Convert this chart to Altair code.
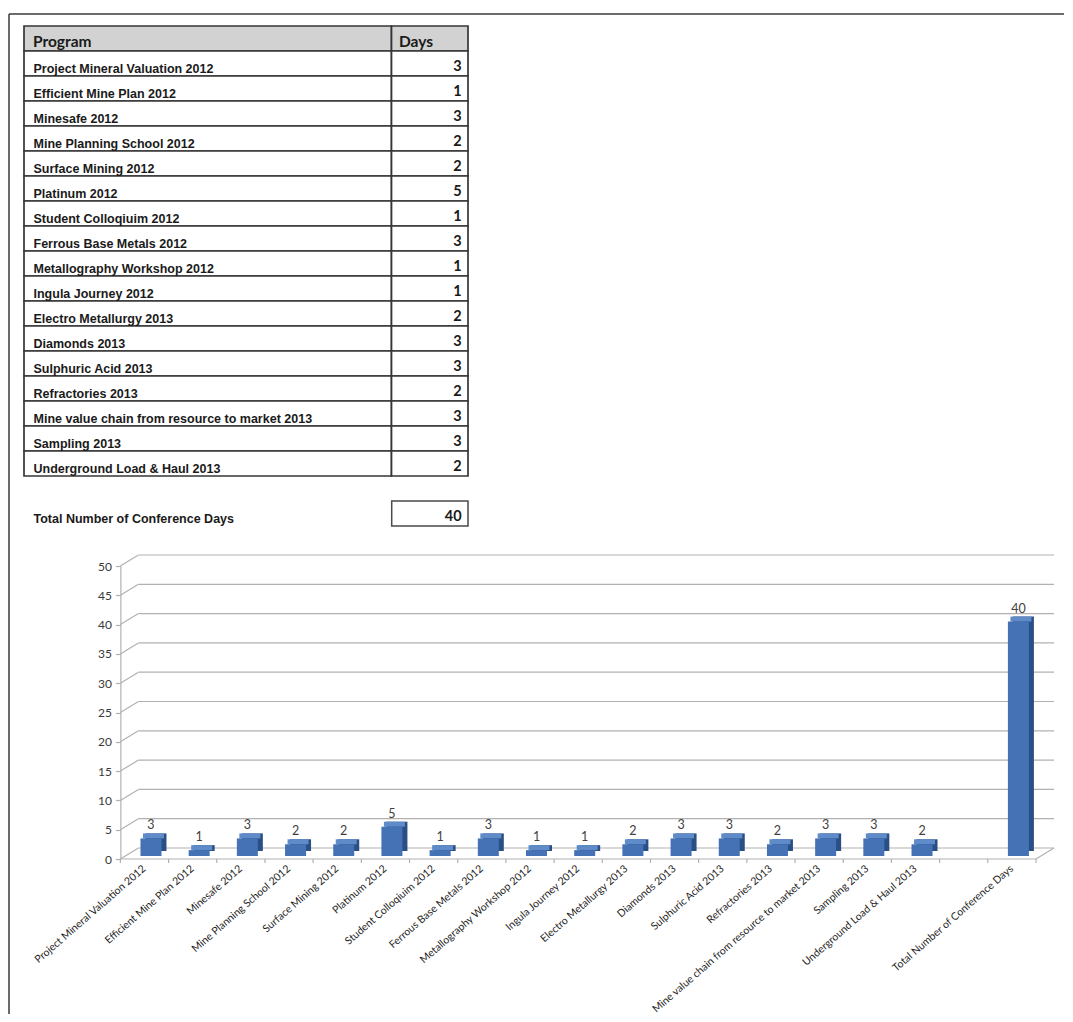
import altair as alt
import pandas as pd

# ---------------- data ----------------
programs = [
    "Project Mineral Valuation 2012",
    "Efficient Mine Plan 2012",
    "Minesafe 2012",
    "Mine Planning School 2012",
    "Surface Mining 2012",
    "Platinum 2012",
    "Student Colloqiuim 2012",
    "Ferrous Base Metals 2012",
    "Metallography Workshop 2012",
    "Ingula Journey 2012",
    "Electro Metallurgy 2013",
    "Diamonds 2013",
    "Sulphuric Acid 2013",
    "Refractories 2013",
    "Mine value chain from resource to market 2013",
    "Sampling 2013",
    "Underground Load & Haul 2013",
]
days = [3, 1, 3, 2, 2, 5, 1, 3, 1, 1, 2, 3, 3, 2, 3, 3, 2]
total_label = "Total Number of Conference Days"
total_days = 40
header_labels = ["Program", "Days"]
y_ticks = [0, 5, 10, 15, 20, 25, 30, 35, 40, 45, 50]

# ---------------- table panel ----------------
HEADER_KEY, GAP_KEY, TOTAL_KEY = "_header", "_gap", "_total"
row_domain = [HEADER_KEY] + programs + [GAP_KEY, TOTAL_KEY]

rows_df = pd.DataFrame({"key": [HEADER_KEY] + programs,
                        "is_header": [True] + [False] * len(programs)})
prog_df = pd.DataFrame({"key": programs, "days": days})
head_df = pd.DataFrame({"key": [HEADER_KEY] * 2, "label": header_labels})
total_df = pd.DataFrame({"key": [TOTAL_KEY], "label": [total_label], "days": [total_days]})
one_df = pd.DataFrame({"a": [0]})

TW = 444
COL = 367.5
LINE = "#363636"

yrow = alt.Y("key:N", scale=alt.Scale(domain=row_domain, paddingInner=0, paddingOuter=0), axis=None)
fill_cond = alt.condition("datum.is_header", alt.value("#D2D2D2"), alt.value("#FFFFFF"))

prog_cells = alt.Chart(rows_df).mark_rect(stroke=LINE, strokeWidth=1.7).encode(
    x=alt.value(0), x2=alt.value(COL), y=yrow, fill=fill_cond)
day_cells = alt.Chart(rows_df).mark_rect(stroke=LINE, strokeWidth=1.7).encode(
    x=alt.value(COL), x2=alt.value(TW), y=yrow, fill=fill_cond)

prog_text = alt.Chart(prog_df).mark_text(
    align="left", baseline="alphabetic", dy=9, font="Liberation Sans",
    fontWeight="bold", fontSize=12.5, color="#1a1a1a").encode(
    x=alt.value(9.5), y=yrow, text="key:N")
day_text = alt.Chart(prog_df).mark_text(
    align="right", baseline="alphabetic", dy=7, font="Lato",
    fontWeight="bold", fontSize=14.5, color="#1a1a1a").encode(
    x=alt.value(437.7), y=yrow, text="days:Q")

head_prog = alt.Chart(head_df).transform_filter(alt.datum.label == header_labels[0]).mark_text(
    align="left", baseline="alphabetic", dy=8, font="Lato", fontWeight="bold",
    fontSize=15.5, color="#1a1a1a").encode(x=alt.value(9), y=yrow, text="label:N")
head_days = alt.Chart(head_df).transform_filter(alt.datum.label == header_labels[1]).mark_text(
    align="left", baseline="alphabetic", dy=8, font="Lato", fontWeight="bold",
    fontSize=15.5, color="#1a1a1a").encode(x=alt.value(375), y=yrow, text="label:N")

total_text = alt.Chart(total_df).mark_text(
    align="left", baseline="alphabetic", dy=9.5, font="Liberation Sans",
    fontWeight="bold", fontSize=12.5, color="#1a1a1a").encode(
    x=alt.value(9.5), y=yrow, text="label:N")
total_box = alt.Chart(total_df).mark_rect(stroke="#4a4a4a", strokeWidth=1.5, fill="#FFFFFF").encode(
    x=alt.value(COL + 0.2), x2=alt.value(TW), y=yrow)
total_num = alt.Chart(total_df).mark_text(
    align="right", baseline="alphabetic", dy=7, font="Lato",
    fontWeight="bold", fontSize=14.5, color="#1a1a1a").encode(
    x=alt.value(437.7), y=yrow, text="days:Q")

frame_top = alt.Chart(one_df).mark_rule(color="#3a3a3a", strokeWidth=1.5).encode(
    x=alt.value(-15), x2=alt.value(1040), y=alt.value(-12))
frame_left = alt.Chart(one_df).mark_rule(color="#3a3a3a", strokeWidth=1.5).encode(
    x=alt.value(-15), y=alt.value(-12), y2=alt.value(988))

table = alt.layer(
    frame_top, frame_left, prog_cells, day_cells, prog_text, day_text,
    head_prog, head_days, total_box, total_text, total_num,
).properties(width=TW, height=500)

# ---------------- bar chart panel ----------------
PAD1, PAD2, GAP = "_pad1", "_pad2", "_gap"
x_domain = [PAD1, PAD2] + programs + [GAP, total_label]
W = 1012
H = 293
BAND = W / len(x_domain)
AX = 2 * BAND            # x of front y-axis
DX, DY = 18, 11          # 3D depth of back wall
GRID = "#B5B0B0"

bars_df = pd.DataFrame({"cat": programs + [total_label], "days": days + [total_days]})
tick_df = pd.DataFrame({"cat": programs + [GAP, total_label], "v": [0] * (len(programs) + 2)})
end_df = pd.DataFrame({"cat": [total_label], "v": [0]})
grid_df = pd.DataFrame({"v": y_ticks})
zero_df = pd.DataFrame({"v": [0]})

xscale = alt.Scale(domain=x_domain, paddingInner=0, paddingOuter=0)
xaxis = alt.Axis(
    title=None, ticks=False, domain=False, labelAngle=319, labelAlign="right",
    labelBaseline="middle", labelPadding=8, labelFont="Lato", labelFontSize=10.5,
    labelColor="#1f1f1f", labelLimit=400, labelOverlap=False,
    labelExpr="indexof(['_pad1','_pad2','_gap'], datum.value) >= 0 ? '' : datum.value")
yscale = alt.Scale(domain=[0, 50], nice=False, zero=True)
yaxis = alt.Axis(
    title=None, values=y_ticks, offset=-AX, grid=False, domainColor=GRID,
    domainWidth=1.2, tickColor=GRID, tickWidth=1.2, tickSize=5, labelPadding=4,
    labelFont="Lato", labelFontSize=12, labelColor="#3a3a3a")

def X(field="cat:N", **kw):
    return alt.X(field, scale=xscale, axis=xaxis, **kw)

def Y(field):
    return alt.Y(field, scale=yscale, axis=yaxis)

back_grid = alt.Chart(grid_df).mark_rule(color=GRID, strokeWidth=1.2, yOffset=-DY).encode(
    x=alt.value(AX + DX), x2=alt.value(W + DX), y=Y("v:Q"))
diag = alt.Chart(grid_df).mark_rule(color=GRID, strokeWidth=1.2, y2Offset=-DY).encode(
    x=alt.value(AX), x2=alt.value(AX + DX), y=Y("v:Q"), y2=alt.Y2("v:Q"))
floor_right = alt.Chart(zero_df).mark_rule(color=GRID, strokeWidth=1.2, y2Offset=-DY).encode(
    x=alt.value(W), x2=alt.value(W + DX), y=Y("v:Q"), y2=alt.Y2("v:Q"))
front_axis = alt.Chart(zero_df).mark_rule(color=GRID, strokeWidth=1.2).encode(
    x=alt.value(AX), x2=alt.value(W), y=Y("v:Q"))
xticks = alt.Chart(tick_df).mark_rule(color=GRID, strokeWidth=1.2, y2Offset=4).encode(
    x=X(bandPosition=0), y=Y("v:Q"), y2=alt.Y2("v:Q"))
xtick_end = alt.Chart(end_df).mark_rule(color=GRID, strokeWidth=1.2, y2Offset=4).encode(
    x=X(bandPosition=1), y=Y("v:Q"), y2=alt.Y2("v:Q"))

FRONT, SIDE, TOP = "#4472B5", "#2A4F84", "#5F8CC8"
BW = 21
SHIFT = 6.5
side = alt.Chart(bars_df).mark_bar(size=BW, color=SIDE, xOffset=SHIFT + 5, yOffset=-8, y2Offset=-8).encode(
    x=X(), y=Y("days:Q"), y2=alt.Y2(datum=0))
top = alt.Chart(bars_df).mark_bar(size=BW, color=TOP, xOffset=SHIFT + 2.5, yOffset=-8, y2Offset=-3).encode(
    x=X(), y=Y("days:Q"), y2=alt.Y2("days:Q"))
front = alt.Chart(bars_df).mark_bar(size=BW, color=FRONT, xOffset=SHIFT, yOffset=-3, y2Offset=-3).encode(
    x=X(), y=Y("days:Q"), y2=alt.Y2(datum=0))
labels = alt.Chart(bars_df).mark_text(
    dy=-12, xOffset=SHIFT, font="Lato", fontSize=12.5, color="#404040", baseline="alphabetic").encode(
    x=X(), y=Y("days:Q"), text="days:Q")

bars = alt.layer(
    back_grid, diag, floor_right, front_axis, xticks, xtick_end, side, top, front, labels
).properties(width=W, height=H)

chart = alt.vconcat(table, bars, spacing=40, bounds="flush").properties(
    padding={"left": 0, "top": 5, "right": 0, "bottom": 0},
    background="#FFFFFF",
).configure_view(stroke=None)

chart.save("out.html", embed_options={"renderer": "svg", "actions": False})
